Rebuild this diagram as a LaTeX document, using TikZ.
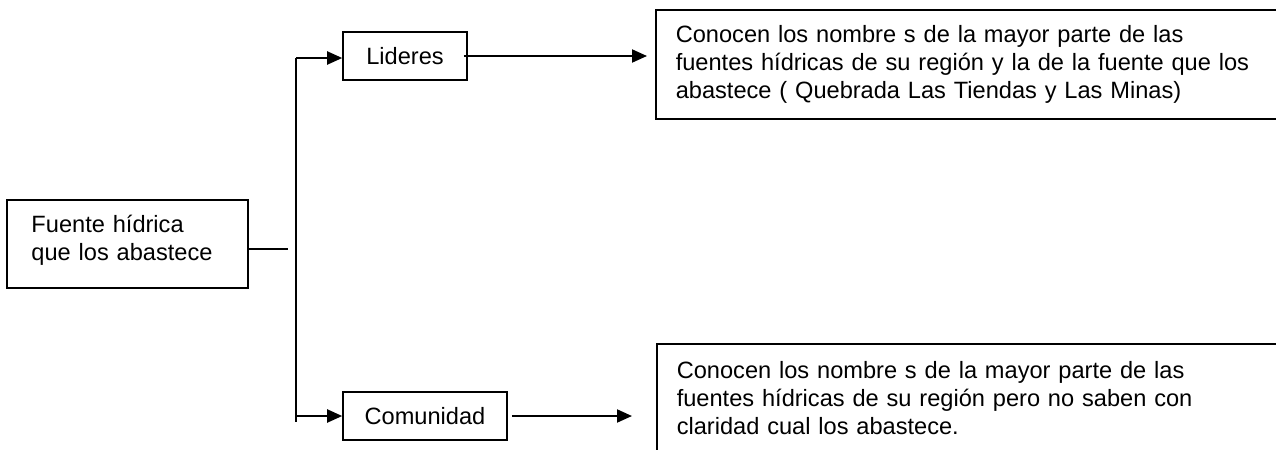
\documentclass[tikz,border=0pt]{standalone}
\usepackage{fontspec}
\setmainfont{Liberation Sans}
\usetikzlibrary{arrows.meta}

\tikzset{
  caja/.style={draw, line width=0.8pt, inner sep=0pt, font=\fontsize{11.8}{14}\selectfont},
  flecha/.style={line width=1pt, -{Triangle[length=7.5pt,width=6.5pt]}},
  linea/.style={line width=1pt}
}

\begin{document}
\begin{tikzpicture}[x=0.5pt,y=-0.5pt]
      \useasboundingbox (0,0) rectangle (1276,450);
      \clip (0,0) rectangle (1276,450);

      \node[caja, minimum width=120.5pt, minimum height=44pt, text width=96pt, align=left] (fuente) at (127.5,244) {Fuente hídrica\\que los abastece\vspace{4pt}};
      \node[caja, minimum width=62pt, minimum height=24pt] (lideres) at (405,56) {Lideres};
      \node[caja, minimum width=82pt, minimum height=24pt] (comunidad) at (425,416) {Comunidad};

      \node[caja, anchor=north west, minimum width=320pt, minimum height=54.5pt, text width=300pt, align=left] (resA) at (655,9) {Conocen los nombre s de la mayor parte de las\\fuentes hídricas de su región y la de la fuente que los\\abastece ( Quebrada Las Tiendas y Las Minas)};
      \node[caja, anchor=north west, minimum width=320pt, text width=300pt, align=left, inner ysep=9pt] (resB) at (656,343) {Conocen los nombre s de la mayor parte de las\\fuentes hídricas de su región pero no saben con\\claridad cual los abastece.};

      \coordinate (union) at (288,249);
      \coordinate (arriba) at (296,58);
      \coordinate (abajo) at (296,422);

      \draw[linea] (fuente.east |- union) -- (union);
      \draw[linea] (arriba) -- (abajo);
      \draw[flecha] (arriba) -- (arriba -| lideres.west);
      \draw[flecha] (abajo |- comunidad.west) -- (comunidad.west);
      \draw[flecha, shorten >=4pt, shorten <=-2pt] (lideres.east) -- (lideres.east -| resA.west);
      \draw[flecha, shorten >=12pt, shorten <=2pt] (comunidad.east) -- (comunidad.east -| resB.west);
  \end{tikzpicture}
\end{document}
